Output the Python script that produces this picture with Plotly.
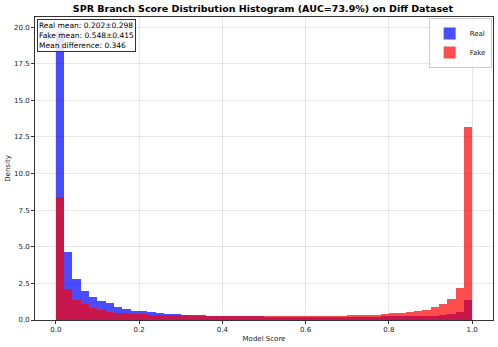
import numpy as np
import plotly.graph_objects as go

# Histogram densities (50 bins over [0, 1], width 0.02)
bin_width = 0.02
bin_centers = np.round(np.arange(50) * bin_width + bin_width / 2, 3)

real_density = [
    19.7, 4.62, 2.78, 1.98, 1.55, 1.30, 1.14, 0.89, 0.73, 0.64,
    0.60, 0.55, 0.48, 0.42, 0.39, 0.35, 0.33, 0.31, 0.30, 0.28,
    0.27, 0.26, 0.25, 0.26, 0.24, 0.22, 0.22, 0.21, 0.21, 0.20,
    0.20, 0.20, 0.20, 0.21, 0.21, 0.21, 0.22, 0.22, 0.23, 0.24,
    0.25, 0.26, 0.27, 0.28, 0.28, 0.30, 0.34, 0.41, 0.57, 1.34,
]
fake_density = [
    8.37, 2.12, 1.37, 1.07, 0.84, 0.66, 0.56, 0.50, 0.45, 0.42,
    0.40, 0.37, 0.35, 0.33, 0.32, 0.31, 0.30, 0.29, 0.28, 0.27,
    0.27, 0.26, 0.26, 0.25, 0.25, 0.25, 0.25, 0.25, 0.25, 0.26,
    0.26, 0.27, 0.28, 0.29, 0.30, 0.31, 0.32, 0.34, 0.36, 0.40,
    0.45, 0.50, 0.55, 0.64, 0.70, 0.86, 1.07, 1.41, 2.16, 13.2,
]

stats_lines = [
    "Real mean: 0.202±0.298",
    "Fake mean: 0.548±0.415",
    "Mean difference: 0.346",
]
title = "SPR Branch Score Distribution Histogram (AUC=73.9%) on Diff Dataset"

font = "DejaVu Sans"

fig = go.Figure()
fig.add_trace(go.Bar(
    x=bin_centers, y=real_density, width=bin_width, name="Real",
    marker=dict(color="rgba(0,0,255,0.7)", line=dict(width=0)),
))
fig.add_trace(go.Bar(
    x=bin_centers, y=fake_density, width=bin_width, name="Fake",
    marker=dict(color="rgba(255,0,0,0.7)", line=dict(width=0)),
))

axis_style = dict(
    showline=True, linecolor="#333", linewidth=1, mirror=True,
    ticks="outside", ticklen=3, tickcolor="#333",
    showgrid=True, gridcolor="rgba(176,176,176,0.3)", gridwidth=1,
    zeroline=False, automargin=False,
    tickfont=dict(family=font, size=7, color="#222"),
)

fig.update_layout(
    width=498, height=347,
    margin=dict(l=35, r=5, t=17, b=27),
    paper_bgcolor="white", plot_bgcolor="white",
    barmode="overlay", bargap=0,
    title=dict(text="<b>" + title + "</b>", x=0.528, xanchor="center",
               y=0.985, yanchor="top",
               font=dict(family=font, size=9.5, color="black")),
    legend=dict(x=0.997, y=0.997, xanchor="right", yanchor="top",
                bgcolor="rgba(255,255,255,0.8)", bordercolor="#ccc",
                borderwidth=1, font=dict(family=font, size=7, color="#222"),
                itemwidth=30, tracegroupgap=0),
    font=dict(family=font),
)
fig.update_xaxes(
    range=[-0.05, 1.05], tickvals=[0, 0.2, 0.4, 0.6, 0.8, 1.0], tickformat=".1f",
    title=dict(text="Model Score", font=dict(family=font, size=7, color="#222"), standoff=2),
    **axis_style,
)
fig.update_yaxes(
    range=[0, 20.69], tickvals=[0, 2.5, 5, 7.5, 10, 12.5, 15, 17.5, 20], tickformat=".1f",
    title=dict(text="Density", font=dict(family=font, size=7, color="#222"), standoff=2),
    **axis_style,
)

fig.add_annotation(
    xref="paper", yref="paper", x=0.004, y=0.995, xanchor="left", yanchor="top",
    text="<br>".join(stats_lines), align="left", showarrow=False,
    font=dict(family=font, size=7.5, color="black"),
    bgcolor="rgba(255,255,255,0.85)", bordercolor="#333", borderwidth=1, borderpad=1,
)

# the page body has a default 8px margin; drop it so the figure fills the window
fig.write_html("out.html", config={"displayModeBar": False},
               post_script="document.body.style.margin='0';")
